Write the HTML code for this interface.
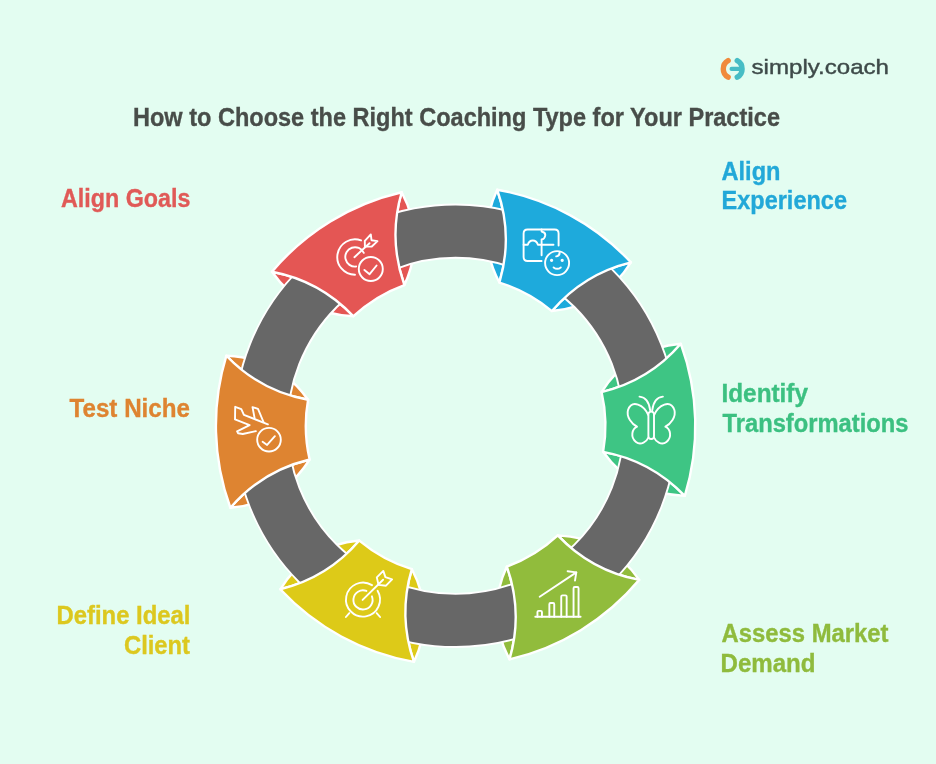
<!DOCTYPE html>
<html><head><meta charset="utf-8">
<style>
html,body{margin:0;padding:0;}
body{width:936px;height:764px;background:#e3fdf1;position:relative;overflow:hidden;font-family:"Liberation Sans",sans-serif;}
svg{position:absolute;left:0;top:0;will-change:transform;}
.t{position:absolute;font-weight:bold;white-space:nowrap;line-height:30px;}
</style></head><body>
<svg width="936" height="764" viewBox="0 0 936 764">
<g stroke="#fff" stroke-width="2.4" stroke-linejoin="round"><path d="M680.84,343.82 Q629.24,348.32 601.56,392.10 Q649.00,380.77 680.84,343.82 Z" fill="#3ec584"/><path d="M684.83,495.88 Q633.06,494.09 603.12,451.81 Q651.10,460.65 684.83,495.88 Z" fill="#3ec584"/><path d="M497.22,189.74 Q475.32,236.68 499.40,282.55 Q513.31,235.79 497.22,189.74 Z" fill="#1eaadc"/><path d="M630.91,262.32 Q603.47,306.26 551.89,311.05 Q583.52,273.92 630.91,262.32 Z" fill="#1eaadc"/><path d="M271.98,271.72 Q301.68,314.17 353.44,316.24 Q319.90,280.82 271.98,271.72 Z" fill="#e45654"/><path d="M401.68,192.24 Q426.01,237.97 404.37,285.03 Q388.03,239.07 401.68,192.24 Z" fill="#e45654"/><path d="M230.36,507.78 Q281.96,503.28 309.64,459.50 Q262.20,470.83 230.36,507.78 Z" fill="#de8431"/><path d="M226.37,355.72 Q278.14,357.51 308.08,399.79 Q260.10,390.95 226.37,355.72 Z" fill="#de8431"/><path d="M413.98,661.86 Q435.88,614.92 411.80,569.05 Q397.89,615.81 413.98,661.86 Z" fill="#ddca18"/><path d="M280.29,589.28 Q307.73,545.34 359.31,540.55 Q327.68,577.68 280.29,589.28 Z" fill="#ddca18"/><path d="M639.22,579.88 Q609.52,537.43 557.76,535.36 Q591.30,570.78 639.22,579.88 Z" fill="#91bc3c"/><path d="M509.52,659.36 Q485.19,613.63 506.83,566.57 Q523.17,612.53 509.52,659.36 Z" fill="#91bc3c"/></g><circle cx="455.6" cy="425.8" r="194.65" fill="none" stroke="#fff" stroke-width="55.10"/><circle cx="455.6" cy="425.8" r="194.65" fill="none" stroke="#676767" stroke-width="51.30"/><g stroke="#fff" stroke-width="2.4" stroke-linejoin="round"><path d="M684.83,495.88 A239.7,239.7 0 0 0 680.84,343.82 Q649.00,380.77 601.56,392.10 A149.8,149.8 0 0 1 603.12,451.81 Q651.10,460.65 684.83,495.88 Z" fill="#3ec584"/><path d="M630.91,262.32 A239.7,239.7 0 0 0 497.22,189.74 Q513.31,235.79 499.40,282.55 A149.8,149.8 0 0 1 551.89,311.05 Q583.52,273.92 630.91,262.32 Z" fill="#1eaadc"/><path d="M401.68,192.24 A239.7,239.7 0 0 0 271.98,271.72 Q319.90,280.82 353.44,316.24 A149.8,149.8 0 0 1 404.37,285.03 Q388.03,239.07 401.68,192.24 Z" fill="#e45654"/><path d="M226.37,355.72 A239.7,239.7 0 0 0 230.36,507.78 Q262.20,470.83 309.64,459.50 A149.8,149.8 0 0 1 308.08,399.79 Q260.10,390.95 226.37,355.72 Z" fill="#de8431"/><path d="M280.29,589.28 A239.7,239.7 0 0 0 413.98,661.86 Q397.89,615.81 411.80,569.05 A149.8,149.8 0 0 1 359.31,540.55 Q327.68,577.68 280.29,589.28 Z" fill="#ddca18"/><path d="M509.52,659.36 A239.7,239.7 0 0 0 639.22,579.88 Q591.30,570.78 557.76,535.36 A149.8,149.8 0 0 1 506.83,566.57 Q523.17,612.53 509.52,659.36 Z" fill="#91bc3c"/></g>
<g fill="none" stroke="#fff" stroke-width="1.9" stroke-linecap="round" stroke-linejoin="round">
<path d="M361.05,240.47 A17.7,17.7 0 1 0 355.00,274.80"/>
<path d="M363.79,252.80 A9.7,9.7 0 1 0 356.18,266.53"/>
<path d="M354.4,257.2 L369.5,243.2"/>
<path d="M370.8,234.4 L364.8,240.9 L364.9,246.6 L371.8,246.5 L377.5,241.1 L371.5,240.2 Z"/>
<circle cx="370.8" cy="269" r="12"/>
<path d="M364.4,269.9 L369.6,274.2 L376.6,265.5"/>
<path d="M541.6,261 H527.6 Q523.6,261 523.6,257 V233.5 Q523.6,229.5 527.6,229.5 H554.6 Q558.6,229.5 558.6,233.5 V245.5"/>
<path d="M541.6,229.5 V231.5 Q545.8,232.5 545.2,235.6 Q544.6,239 541.6,239.5 V255.3"/>
<path d="M523.6,244.7 H527.8 Q529,240.5 532.8,240.5 Q536.6,240.5 537.9,244.7 H553.5"/>
<circle cx="557.1" cy="263.1" r="12"/>
<path d="M556.2,256.4 Q559.9,256 559.6,252.3"/>
<circle cx="551.6" cy="260.3" r="0.7" fill="#fff"/>
<circle cx="562.2" cy="260.3" r="0.7" fill="#fff"/>
<path d="M553.6,267.4 Q557.2,270.2 560.8,267.4"/>
<rect x="648.4" y="411.6" width="5.6" height="27.4" rx="2.8"/>
<path d="M650.2,410.3 Q648.5,397.5 639.5,396.6"/>
<path d="M652.2,410.3 Q653.9,397.5 662.9,396.6"/>
<path d="M648.2,415 C644,405 632,399 628,410 C626,417 632,424 637,426.7 C632,429 630,437 636,442 C641,446 647,441 648.4,437.5"/>
<path d="M654.2,415 C658.4,405 670.4,399 674.4,410 C676.4,417 670.4,424 665.4,426.7 C670.4,429 672.4,437 666.4,442 C661.4,446 655.4,441 654,437.5"/>
<path d="M535.3,616.8 H580.6"/>
<path d="M537.45,616.8 V612.05 Q537.45,610.85 538.65,610.85 H540.75 Q541.95,610.85 541.95,612.05 V616.8"/>
<path d="M549.35,616.8 V604.25 Q549.35,603.05 550.55,603.05 H553.05 Q554.25,603.05 554.25,604.25 V616.8"/>
<path d="M561.25,616.8 V596.55 Q561.25,595.35 562.45,595.35 H565.45 Q566.65,595.35 566.65,596.55 V616.8"/>
<path d="M573.55,616.8 V588.25 Q573.55,587.05 574.75,587.05 H577.35 Q578.55,587.05 578.55,588.25 V616.8"/>
<path d="M539.7,596.7 L576.3,572.4"/>
<path d="M567.6,571.2 L576.3,572.4 L575,580.6"/>
<path d="M372.01,585.18 A17,17 0 1 0 377.57,590.84"/>
<path d="M366.44,590.94 A9.6,9.6 0 1 0 371.90,596.30"/>
<path d="M362.6,599.9 L383.1,579.7"/>
<path d="M383.3,570.9 L385.4,577.1 L392.1,579.4 L386,585.7 L378.5,584.9 L376.8,577.4 Z"/>
<path d="M349.3,613.1 L345.9,617"/>
<path d="M376.7,613.1 L380.1,617"/>
<path d="M267.9,424.3 L243.9,414.9 L241.3,409.2 L235.2,406.8 L235,419.4 L249.6,425.1 L237.1,431.4 L238.1,433.2 L242.8,434 L255.9,431.1"/>
<path d="M254.6,418.1 L252.5,407.1 L258,408.9 L263.5,422"/>
<circle cx="269" cy="439.7" r="11.8"/>
<path d="M262.6,441.7 L267.1,444.9 L274.9,436.2"/>
</g>
<g font-family="Liberation Sans" font-weight="bold" font-size="25.3" style="stroke-width:0.35"><text x="133.0" y="125.9" fill="#484d49" stroke="#484d49" textLength="647.0" lengthAdjust="spacingAndGlyphs">How to Choose the Right Coaching Type for Your Practice</text>
<text x="61.0" y="206.8" fill="#e05a57" stroke="#e05a57" textLength="129.5" lengthAdjust="spacingAndGlyphs">Align Goals</text>
<text x="721.5" y="179.8" fill="#22a8d8" stroke="#22a8d8" textLength="59.0" lengthAdjust="spacingAndGlyphs">Align</text>
<text x="721.5" y="209.2" fill="#22a8d8" stroke="#22a8d8" textLength="125.5" lengthAdjust="spacingAndGlyphs">Experience</text>
<text x="721.5" y="401.7" fill="#3cc081" stroke="#3cc081" textLength="86.5" lengthAdjust="spacingAndGlyphs">Identify</text>
<text x="722.5" y="431.6" fill="#3cc081" stroke="#3cc081" textLength="186.0" lengthAdjust="spacingAndGlyphs">Transformations</text>
<text x="721.5" y="641.8" fill="#8fbb3d" stroke="#8fbb3d" textLength="167.0" lengthAdjust="spacingAndGlyphs">Assess Market</text>
<text x="720.5" y="671.8" fill="#8fbb3d" stroke="#8fbb3d" textLength="95.0" lengthAdjust="spacingAndGlyphs">Demand</text>
<text x="69.5" y="416.8" fill="#de8431" stroke="#de8431" textLength="120.5" lengthAdjust="spacingAndGlyphs">Test Niche</text>
<text x="56.5" y="623.6" fill="#dcc81f" stroke="#dcc81f" textLength="134.0" lengthAdjust="spacingAndGlyphs">Define Ideal</text>
<text x="124.0" y="653.6" fill="#dcc81f" stroke="#dcc81f" textLength="66.0" lengthAdjust="spacingAndGlyphs">Client</text></g>
<text x="751.5" y="73.6" font-family="Liberation Sans" font-size="21" fill="#3e4a49" stroke="#3e4a49" stroke-width="0.4" textLength="137.5" lengthAdjust="spacingAndGlyphs">simply.coach</text>

<g fill="none" stroke-linecap="round">
<path d="M728.14,60.68 A9.4,9.4 0 0 0 728.14,77.12" stroke="#f08a3c" stroke-width="5.4"/>
<path d="M737.26,60.68 A9.4,9.4 0 0 1 737.26,77.12" stroke="#47bdc5" stroke-width="5.4"/>
<path d="M731.6,68.9 H740" stroke="#47bdc5" stroke-width="4.2"/>
</g>
</svg>

</body></html>
